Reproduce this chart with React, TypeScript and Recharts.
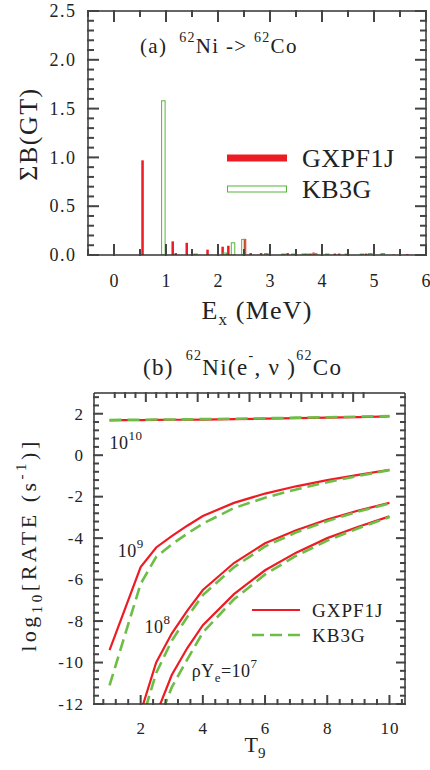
import React from 'react'
import {
  ComposedChart,
  LineChart,
  Bar,
  Line,
  XAxis,
  YAxis,
  Legend,
  ReferenceDot,
} from 'recharts'

const FONT = 'Liberation Serif, Times New Roman, serif'
const RED = '#ed1c24'
const GREEN = '#55b53a'
const DASH_GREEN = '#6cbe45'
const FRAME = '#333'
const TICK = '#444'
const INK = '#222'

// (a) summed B(GT) against excitation energy
const gxEx = [0.55, 1.13, 1.19, 1.4, 1.8, 2.09, 2.2, 2.52, 2.63, 2.83, 2.95, 3.34, 3.78, 3.84, 4.25, 4.33, 4.85, 5.38, 5.64, 5.88]
const gxB = [0.97, 0.14, 0.02, 0.125, 0.055, 0.085, 0.095, 0.165, 0.02, 0.02, 0.01, 0.02, 0.015, 0.025, 0.015, 0.015, 0.015, 0.005, 0.01, 0.01]
const kbEx = [0.95, 1.57, 2.13, 2.29, 2.49, 2.93, 3.26, 3.45, 3.65, 3.71, 3.87, 4.1, 4.48, 4.77, 4.93, 5.17]
const kbB = [1.58, 0.01, 0.02, 0.125, 0.16, 0.015, 0.01, 0.01, 0.01, 0.01, 0.015, 0.01, 0.01, 0.01, 0.015, 0.015]

const exTicks = [-0.5, 0, 0.5, 1, 1.5, 2, 2.5, 3, 3.5, 4, 4.5, 5, 5.5, 6]
const bgtTicks = [0, 0.1, 0.2, 0.3, 0.4, 0.5, 0.6, 0.7, 0.8, 0.9, 1, 1.1, 1.2, 1.3, 1.4, 1.5, 1.6, 1.7, 1.8, 1.9, 2, 2.1, 2.2, 2.3, 2.4, 2.5]

// (b) electron capture rates, log10 (s^-1), for four densities
const t9 = [1, 1.5, 2, 2.5, 3, 3.5, 4, 5, 6, 7, 8, 9, 10]
const gx1e10 = [1.68, 1.69, 1.69, 1.7, 1.71, 1.71, 1.72, 1.74, 1.76, 1.79, 1.81, 1.84, 1.87]
const kb1e10 = [1.7, 1.71, 1.71, 1.72, 1.72, 1.73, 1.74, 1.76, 1.78, 1.81, 1.83, 1.86, 1.89]
const gx1e9 = [-9.4, -7.4, -5.4, -4.45, -3.9, -3.4, -2.93, -2.3, -1.85, -1.5, -1.2, -0.95, -0.7]
const kb1e9 = [-11.1, -8.65, -6.2, -4.9, -4.3, -3.78, -3.3, -2.55, -2.05, -1.65, -1.3, -1.0, -0.72]
const gx1e8 = [null, null, -12.4, -10.0, -8.6, -7.5, -6.5, -5.2, -4.25, -3.62, -3.1, -2.67, -2.3]
const kb1e8 = [null, null, -13.0, -10.5, -8.95, -7.8, -6.75, -5.4, -4.4, -3.72, -3.18, -2.72, -2.33]
const gx1e7 = [null, null, null, -12.5, -10.6, -9.3, -8.2, -6.7, -5.55, -4.7, -4.0, -3.45, -2.95]
const kb1e7 = [null, null, null, -13.1, -11.2, -9.85, -8.55, -6.95, -5.75, -4.85, -4.12, -3.52, -2.98]

const t9Ticks = [0.8, 1.2, 1.6, 2, 2.4, 2.8, 3.2, 3.6, 4, 4.4, 4.8, 5.2, 5.6, 6, 6.4, 6.8, 7.2, 7.6, 8, 8.4, 8.8, 9.2, 9.6, 10, 10.4]
const rateTicks = [-12, -11.6, -11.2, -10.8, -10.4, -10, -9.6, -9.2, -8.8, -8.4, -8, -7.6, -7.2, -6.8, -6.4, -6, -5.6, -5.2, -4.8, -4.4, -4, -3.6, -3.2, -2.8, -2.4, -2, -1.6, -1.2, -0.8, -0.4, 0, 0.4, 0.8, 1.2, 1.6, 2, 2.4, 2.8]

// where the density labels sit (T9, log rate)
const curveLabels = [
  { t: 1.0, v: 0.29, base: '10', sup: '10' },
  { t: 1.26, v: -4.93, base: '10', sup: '9' },
  { t: 2.12, v: -8.56, base: '10', sup: '8' },
  { t: 3.64, v: -10.69, base: 'ρY', sup: '7' },
]

const barRows = [
  ...gxEx.map((ex, i) => ({ ex, gx: gxB[i] })),
  ...kbEx.map((ex, i) => ({ ex, kb: kbB[i] })),
]

const rateRows = t9.map((t, i) => ({
  t,
  gx10: gx1e10[i], kb10: kb1e10[i],
  gx9: gx1e9[i], kb9: kb1e9[i],
  gx8: gx1e8[i], kb8: kb1e8[i],
  gx7: gx1e7[i], kb7: kb1e7[i],
}))

const rateSeries = [
  { key: 'gx10', name: 'GXPF1J', kb: false, legend: true },
  { key: 'gx9', name: 'gx9', kb: false, legend: false },
  { key: 'gx8', name: 'gx8', kb: false, legend: false },
  { key: 'gx7', name: 'gx7', kb: false, legend: false },
  { key: 'kb10', name: 'KB3G', kb: true, legend: true },
  { key: 'kb9', name: 'kb9', kb: true, legend: false },
  { key: 'kb8', name: 'kb8', kb: true, legend: false },
  { key: 'kb7', name: 'kb7', kb: true, legend: false },
]

type Side = 'bottom' | 'top' | 'left' | 'right'

const onStep = (v: number, step: number) => Math.abs(v / step - Math.round(v / step)) < 1e-6

// inward ticks, long on the labelled steps
const makeTick = (side: Side, step: number, big: number, small: number, size = 16, gap = 0, fmt?: (v: number) => string, spacing = 1) =>
  (props: any) => {
    const x = Number(props.x)
    const y = Number(props.y)
    const v = Number(props.payload?.value)
    const major = onStep(v, step)
    const len = major ? big : small
    const x2 = side === 'left' ? x + len : side === 'right' ? x - len : x
    const y2 = side === 'bottom' ? y - len : side === 'top' ? y + len : y
    let label = null
    if (major && fmt) {
      label = side === 'bottom'
        ? <text x={x + spacing / 2} y={y + gap} textAnchor="middle" fontSize={size} fill={INK} stroke="none"
            fontFamily={FONT} letterSpacing={spacing}>{fmt(v)}</text>
        : <text x={x - gap + spacing} y={y + size * 0.34} textAnchor="end" fontSize={size} fill={INK} stroke="none"
            fontFamily={FONT} letterSpacing={spacing}>{fmt(v)}</text>
    }
    return (
      <g>
        <rect x={Math.min(x, x2) - 1} y={Math.min(y, y2) - 1}
          width={Math.abs(x2 - x) + 2} height={Math.abs(y2 - y) + 2} fill={TICK} stroke="none" />
        {label}
      </g>
    )
  }

const axisCommon = {
  interval: 0 as const,
  tickSize: 0,
  tickMargin: 0,
  tickLine: false,
  axisLine: { stroke: FRAME, strokeWidth: 1.5 },
  allowDataOverflow: true,
  type: 'number' as const,
}

const barBox = (props: any) => {
  const { x, y, width, height } = props
  if (![x, y, width, height].every(Number.isFinite) || height === 0) return null
  return { cx: x + width / 2, top: height < 0 ? y + height : y, h: Math.abs(height) }
}

const RedBar = (props: any) => {
  const b = barBox(props)
  if (!b) return <g />
  return <rect x={b.cx - 1.25} y={b.top} width={2.5} height={b.h} fill={RED} />
}

const GreenBar = (props: any) => {
  const b = barBox(props)
  if (!b) return <g />
  return <rect x={b.cx - 1.75} y={b.top} width={3.5} height={b.h} fill="none" stroke={GREEN} strokeWidth={1} />
}

const LegendA = ({ payload }: any) => (
  <svg width={200} height={70} style={{ display: 'block' }}>
    {(payload || []).map((p: any, i: number) => {
      const cy = 20 + i * 31
      return (
        <g key={p.value}>
          {i === 0
            ? <rect x={2} y={cy - 3.5} width={60} height={7} fill={RED} />
            : <rect x={2.5} y={cy - 3} width={59} height={6} fill="none" stroke={GREEN} strokeWidth={1} />}
          <text x={77} y={cy + 9} fontSize={26} fill={INK} fontFamily={FONT} letterSpacing={0.5}>{p.value}</text>
        </g>
      )
    })}
  </svg>
)

const LegendB = ({ payload }: any) => (
  <svg width={160} height={55} style={{ display: 'block' }}>
    {(payload || []).map((p: any, i: number) => {
      const cy = 15 + i * 25
      return (
        <g key={p.value}>
          <line x1={2} x2={50} y1={cy} y2={cy} stroke={i === 0 ? RED : DASH_GREEN}
            strokeWidth={i === 0 ? 2.2 : 2.6} strokeDasharray={i === 0 ? undefined : '12 6'} />
          <text x={62} y={cy + 6.5} fontSize={19} fill={INK} fontFamily={FONT} letterSpacing={1}>{p.value}</text>
        </g>
      )
    })}
  </svg>
)

const CurveLabel = ({ cx, cy, base, sup }: any) => (
  <text x={cx} y={cy} fontSize={18} fill={INK} fontFamily={FONT} letterSpacing={0.5}>
    {base === 'ρY' ? (
      <>
        ρY<tspan fontSize={13} dy={5}>e</tspan>
        <tspan dy={-5}>=10</tspan>
      </>
    ) : base}
    <tspan fontSize={13} dy={-9}>{sup}</tspan>
  </text>
)

const PanelA = () => (
  <ComposedChart width={430} height={335} data={barRows} margin={{ top: 10, right: 3, bottom: 40, left: 28 }}
    style={{ fontFamily: FONT }}>
    <XAxis xAxisId="gx" dataKey="ex" domain={[-0.5, 6]} ticks={exTicks} height={40} {...axisCommon}
      tick={makeTick('bottom', 1, 10, 5, 18, 32, (v) => String(v), 1.5)} />
    <XAxis xAxisId="kb" dataKey="ex" orientation="top" domain={[-0.5, 6]} ticks={exTicks} height={1}
      {...axisCommon} tick={makeTick('top', 1, 10, 5)} />
    <YAxis domain={[0, 2.5]} ticks={bgtTicks} width={60} {...axisCommon}
      tick={makeTick('left', 0.5, 10, 5, 18, 13, (v) => v.toFixed(1), 1.5)} />
    <YAxis yAxisId="r" orientation="right" domain={[0, 2.5]} ticks={bgtTicks} width={1} {...axisCommon}
      tick={makeTick('right', 0.5, 10, 5)} />
    <Bar xAxisId="gx" dataKey="gx" name="GXPF1J" fill={RED} barSize={3} shape={RedBar} isAnimationActive={false} />
    <Bar xAxisId="kb" dataKey="kb" name="KB3G" fill="none" stroke={GREEN} barSize={4} shape={GreenBar} isAnimationActive={false} />
    <Legend layout="vertical" align="center" verticalAlign="middle"
      wrapperStyle={{ left: 225, top: 138, width: 200, height: 70 }} content={LegendA} />
    <text x={140} y={53} fontSize={21} fill={INK} fontFamily={FONT} letterSpacing={1.3}>
      (a)<tspan dx={12} dy={-11} fontSize={14}>62</tspan>
      <tspan dy={11}>Ni -&gt; </tspan>
      <tspan dy={-11} fontSize={14}>62</tspan>
      <tspan dy={11}>Co</tspan>
    </text>
    <text x={37} y={134} transform="rotate(-90 37 134)" textAnchor="middle" fontSize={26} fill={INK}
      fontFamily={FONT} letterSpacing={1.5}>ΣB(GT)</text>
    <text x={257} y={319} textAnchor="middle" fontSize={26} fill={INK} fontFamily={FONT} letterSpacing={1.2}>
      E<tspan fontSize={17} dy={6}>x</tspan>
      <tspan dy={-6}> (MeV)</tspan>
    </text>
  </ComposedChart>
)

const PanelB = () => (
  <LineChart width={430} height={435} data={rateRows} margin={{ top: 57, right: 24, bottom: 26, left: 34 }}
    style={{ fontFamily: FONT }}>
    <XAxis dataKey="t" domain={[0.5, 10.5]} ticks={t9Ticks} height={40} {...axisCommon}
      tick={makeTick('bottom', 2, 8, 4, 17, 30, (v) => String(v), 1)} />
    <XAxis xAxisId="top" orientation="top" domain={[0.5, 10.5]} ticks={t9Ticks} height={1} {...axisCommon}
      tick={makeTick('top', 2, 8, 4)} />
    <YAxis domain={[-12, 3]} ticks={rateTicks} width={60} {...axisCommon}
      tick={makeTick('left', 2, 8, 4, 17, 11, (v) => String(v), 1)} />
    <YAxis yAxisId="r" orientation="right" domain={[-12, 3]} ticks={rateTicks} width={1} {...axisCommon}
      tick={makeTick('right', 2, 8, 4)} />
    {rateSeries.map((s) => (
      <Line key={s.key} type="linear" dataKey={s.key} name={s.name} stroke={s.kb ? DASH_GREEN : RED}
        strokeWidth={s.kb ? 2.6 : 2.2} strokeDasharray={s.kb ? '12 6' : undefined} dot={false}
        activeDot={false} legendType={s.legend ? 'line' : 'none'} isAnimationActive={false} />
    ))}
    {curveLabels.map((c) => (
      <ReferenceDot key={c.sup} x={c.t} y={c.v} r={0}
        shape={(p: any) => <CurveLabel cx={p.cx} cy={p.cy} base={c.base} sup={c.sup} />} />
    ))}
    <Legend layout="vertical" align="center" verticalAlign="middle"
      wrapperStyle={{ left: 250, top: 260, width: 160, height: 55 }} content={LegendB} />
    <text x={143} y={40} fontSize={23} fill={INK} fontFamily={FONT} letterSpacing={1.3}>
      (b)<tspan dx={12} dy={-15} fontSize={14}>62</tspan>
      <tspan dy={15}>Ni(e</tspan>
      <tspan dy={-15} fontSize={14}>-</tspan>
      <tspan dy={15}>, ν )</tspan>
      <tspan dy={-15} fontSize={14}>62</tspan>
      <tspan dy={15}>Co</tspan>
    </text>
    <text x={36} y={210} transform="rotate(-90 36 210)" textAnchor="middle" fontSize={22} fill={INK}
      fontFamily={FONT} letterSpacing={3.5}>
      log<tspan fontSize={15} dy={6}>10</tspan>
      <tspan dy={-6}>[RATE (s</tspan>
      <tspan fontSize={15} dy={-10}>-1</tspan>
      <tspan dy={10}>)]</tspan>
    </text>
    <text x={255} y={417} textAnchor="middle" fontSize={22} fill={INK} fontFamily={FONT}>
      T<tspan fontSize={15} dy={6}>9</tspan>
    </text>
  </LineChart>
)

export default function App() {
  return (
    <div style={{ position: 'absolute', left: 0, top: 0, width: 430, height: 770, background: '#fff', fontFamily: FONT }}>
      <div style={{ position: 'absolute', left: 0, top: 0 }}>
        <PanelA />
      </div>
      <div style={{ position: 'absolute', left: 0, top: 335 }}>
        <PanelB />
      </div>
    </div>
  )
}
